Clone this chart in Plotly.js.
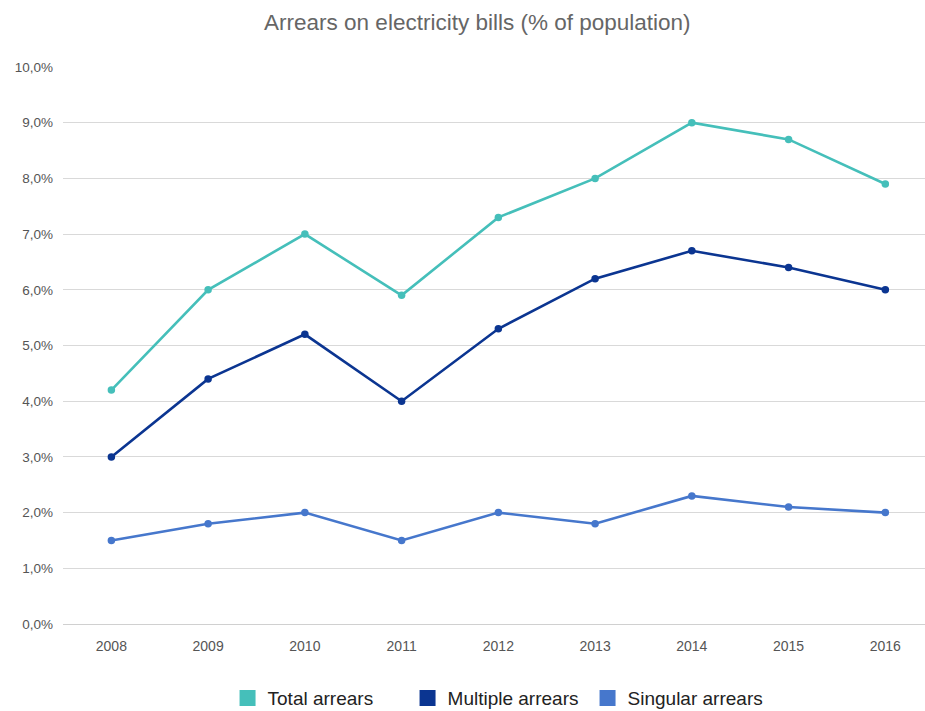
<!DOCTYPE html>
<html>
<head>
<meta charset="utf-8">
<script src="https://cdn.plot.ly/plotly-3.0.1.min.js"></script>
<style>
  html, body { margin: 0; padding: 0; background: #fff; }
  #chart { width: 925px; height: 711px; }
</style>
</head>
<body>
<div id="chart"></div>
<script>
// Arrears on electricity bills, share of population (%)
const years = ['2008', '2009', '2010', '2011', '2012', '2013', '2014', '2015', '2016'];
const totalArrears    = [4.2, 6.0, 7.0, 5.9, 7.3, 8.0, 9.0, 8.7, 7.9];
const multipleArrears = [3.0, 4.4, 5.2, 4.0, 5.3, 6.2, 6.7, 6.4, 6.0];
const singularArrears = [1.5, 1.8, 2.0, 1.5, 2.0, 1.8, 2.3, 2.1, 2.0];
const yTickValues = [0, 1, 2, 3, 4, 5, 6, 7, 8, 9, 10];
const yTickLabels = yTickValues.map(v => v.toFixed(1).replace('.', ',') + '%');

const seriesNames  = ['Total arrears', 'Multiple arrears', 'Singular arrears'];
const seriesColors = ['#45bfba', '#0b3591', '#4677cc'];
const seriesValues = [totalArrears, multipleArrears, singularArrears];

const lineTraces = seriesValues.map((vals, i) => ({
  x: years,
  y: vals,
  name: seriesNames[i],
  type: 'scatter',
  mode: 'lines+markers',
  line: { color: seriesColors[i], width: 2.6 },
  marker: { color: seriesColors[i], size: 7.5 },
  showlegend: false,
  hoverinfo: 'x+y+name'
}));

// square swatches for the legend
const legendTraces = seriesNames.map((name, i) => ({
  x: [null],
  y: [null],
  name: name,
  type: 'scatter',
  mode: 'markers',
  marker: { color: seriesColors[i], symbol: 'square', size: 21 },
  showlegend: true
}));

const layout = {
  width: 925,
  height: 711,
  margin: { l: 63, r: 0, t: 67, b: 87, autoexpand: false },
  paper_bgcolor: '#fff',
  plot_bgcolor: '#fff',
  font: { family: 'Liberation Sans, Arial, sans-serif', color: '#555' },
  title: {
    text: 'Arrears on electricity bills (% of population)',
    font: { size: 22.5, color: '#666' },
    x: 0.516,
    xanchor: 'center',
    y: 0.969,
    yanchor: 'middle'
  },
  xaxis: {
    type: 'category',
    range: [-0.5, 8.41],
    showgrid: false,
    zeroline: false,
    showline: false,
    ticks: '',
    ticklabelstandoff: 12,
    tickfont: { size: 14, color: '#555' },
    fixedrange: true
  },
  yaxis: {
    range: [0, 10],
    tickmode: 'array',
    tickvals: yTickValues,
    ticktext: yTickLabels,
    gridcolor: '#d9d9d9',
    gridwidth: 1,
    zeroline: true,
    zerolinecolor: '#d0d0d0',
    zerolinewidth: 1,
    showline: false,
    ticks: '',
    ticklabelstandoff: 9,
    tickfont: { size: 13.5, color: '#555' },
    fixedrange: true
  },
  legend: {
    orientation: 'h',
    xref: 'container',
    x: 0.246,
    xanchor: 'left',
    yref: 'container',
    y: 0.018,
    yanchor: 'middle',
    font: { size: 19, color: '#222' },
    itemwidth: 30,
    entrywidth: 135,
    entrywidthmode: 'pixels'
  },
  showlegend: true
};

Plotly.newPlot('chart', lineTraces.concat(legendTraces), layout, { displayModeBar: false, staticPlot: true });
</script>
</body>
</html>
